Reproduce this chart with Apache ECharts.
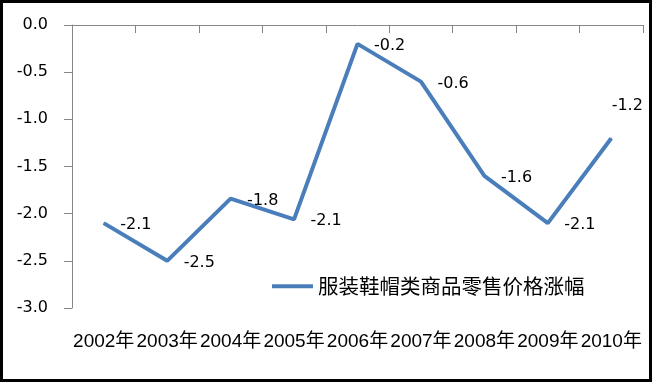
<!DOCTYPE html>
<html>
<head>
<meta charset="utf-8">
<script src="https://cdn.jsdelivr.net/npm/echarts@6/dist/echarts.min.js"></script>
<style>
html,body{margin:0;padding:0;background:#fff;}
#c{width:653px;height:383px;}
</style>
</head>
<body>
<div id="c"></div>
<script>
const categories = ['2002年','2003年','2004年','2005年','2006年','2007年','2008年','2009年','2010年'];
const seriesName = '服装鞋帽类商品零售价格涨幅';
const values = [-2.1, -2.5, -1.84, -2.06, -0.2, -0.6, -1.6, -2.1, -1.2];
const yTicks = [-3.0, -2.5, -2.0, -1.5, -1.0, -0.5, 0.0];

const lineColor = '#4A7EBB';
const axisColor = '#868686';

const chart = echarts.init(document.getElementById('c'), null, {renderer:'canvas'});

const data = values.map((v, i) => {
  const d = {value: v};
  if (i === values.length - 1) {
    d.label = {position: 'top', distance: 24, offset: [16, 0]};
  }
  return d;
});

chart.setOption({
  animation: false,
  backgroundColor: '#fff',
  grid: {left: 72, right: 10, top: 25, bottom: 75, containLabel: false},
  legend: {
    data: [seriesName],
    left: 267, top: 271,
    icon: 'rect', itemWidth: 41, itemHeight: 4,
    textStyle: {fontFamily: 'Noto Sans CJK SC', fontSize: 20.5, color: '#000'}
  },
  xAxis: [{
    type: 'category', data: categories, position: 'bottom', boundaryGap: true,
    axisLine: {show: false}, axisTick: {show: false},
    axisLabel: {margin: 24, fontFamily: 'Liberation Sans, Noto Sans CJK SC', fontSize: 19, color: '#000', interval: 0}
  }, {
    type: 'category', data: categories, position: 'top', boundaryGap: true,
    axisLine: {show: true, onZero: false, lineStyle: {color: axisColor, width: 1}},
    axisTick: {show: true, inside: true, length: 8, interval: 0, lineStyle: {color: axisColor}},
    axisLabel: {show: false}
  }],
  yAxis: {
    type: 'value', min: -3, max: 0, interval: 0.5,
    axisLine: {show: true, lineStyle: {color: axisColor}},
    axisTick: {show: true, length: 8, lineStyle: {color: axisColor}},
    splitLine: {show: false},
    axisLabel: {margin: 24, fontFamily: 'DejaVu Sans', fontSize: 16, color: '#000',
      formatter: v => v.toFixed(1)}
  },
  series: [{
    name: seriesName, type: 'line', xAxisIndex: 0, data: data,
    symbol: 'circle', symbolSize: 1, showSymbol: true,
    lineStyle: {color: lineColor, width: 4},
    itemStyle: {color: lineColor},
    label: {show: true, position: 'right', distance: 16, offset: [0, 2],
      fontFamily: 'DejaVu Sans', fontSize: 16, color: '#000',
      formatter: p => p.value.toFixed(1)}
  }],
  graphic: [{
    type: 'rect', shape: {x: 1.5, y: 1.5, width: 649, height: 379},
    style: {fill: null, stroke: '#000', lineWidth: 3}, silent: true
  }]
});
</script>
</body>
</html>
